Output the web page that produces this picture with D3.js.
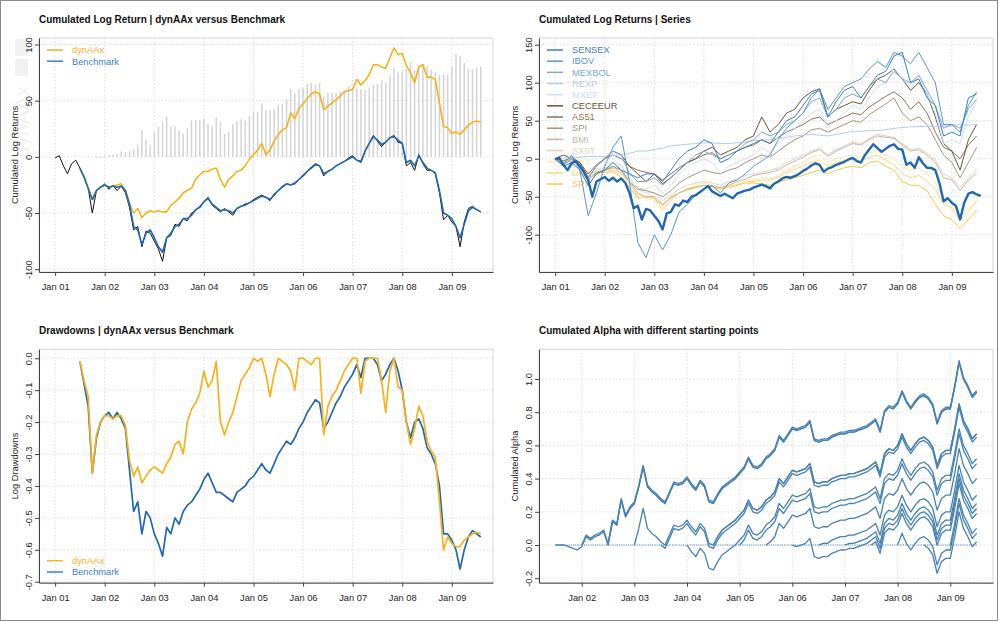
<!DOCTYPE html>
<html><head><meta charset="utf-8">
<script src="https://cdn.jsdelivr.net/npm/d3@7"></script>
<style>body{margin:0;background:#fff} text{font-family:"Liberation Sans",Arial,sans-serif}</style>
</head><body><script>
// ---------- DATA (monthly, index = months since Jan 2001 unless noted) ----------
const yearTicks = [2001,2002,2003,2004,2005,2006,2007,2008,2009];
const yearLabels = ["Jan 01","Jan 02","Jan 03","Jan 04","Jan 05","Jan 06","Jan 07","Jan 08","Jan 09"];

// Panel 1: benchmark (daily-like, from Jan 01), benchmark and dynAAx (from Jul 01), alpha bars (from Oct 01)
const benchDailyStart = 0;
const benchDaily = [-1,1,-8,-15,-6,-3,-10,-18,-28,-50,-30,-27,-24,-29,-25,-30,-26,-32,-45,-65,-62,-80,-66,-68,-75,-82,-93,-72,-70,-60,-62,-55,-57,-50,-48,-44,-40,-36,-43,-46,-49,-46,-49,-52,-46,-44,-42,-41,-38,-36,-34,-36,-39,-33,-30,-26,-24,-25,-23,-20,-16,-13,-9,-6,-8,-17,-13,-11,-8,-6,-4,-1,1,-3,-5,5,12,19,14,9,13,17,19,13,12,-8,-5,-12,2,-6,-12,-12,-15,-32,-56,-52,-58,-62,-80,-58,-46,-44,-47,-49];
const benchStart = 6;
const benchmark = [-10,-18,-28,-38,-30,-27,-25,-27,-26,-27,-26,-30,-42,-62,-65,-78,-68,-65,-72,-80,-85,-72,-68,-62,-60,-55,-55,-52,-47,-45,-40,-37,-42,-45,-48,-47,-48,-50,-46,-44,-43,-41,-39,-37,-35,-36,-38,-34,-30,-27,-24,-25,-24,-20,-17,-13,-10,-7,-8,-15,-13,-11,-8,-6,-4,-2,0,-3,-4,5,12,18,15,11,13,17,18,15,12,-5,-3,-8,1,-5,-10,-12,-14,-30,-50,-52,-55,-62,-72,-60,-48,-45,-47,-49];
const dynStart = 6;
const dynAAx = [-10,-18,-28,-38,-30,-27,-25,-27,-26,-25,-24,-30,-42,-50,-46,-54,-50,-48,-49,-48,-49,-49,-43,-40,-37,-32,-30,-28,-20,-16,-13,-13,-11,-10,-20,-27,-20,-17,-13,-12,-8,-2,2,6,12,2,6,14,20,24,26,39,34,43,47,52,56,58,56,42,45,48,51,54,58,59,60,69,64,68,73,82,82,80,79,88,97,91,92,81,75,66,80,82,71,71,69,48,27,26,21,22,20,24,28,31,32,31];
const barStart = 9;
const alphaBars = [0,-1,-1,1,2,2,3,5,4,5,6.8,10.7,24,15,10.7,21.7,27,31.5,36,27,27,23.5,20.5,25.5,32.3,33,32.3,33.5,29.4,27.6,35.3,30.6,20.5,22.5,29,32,33.5,32.3,36.5,39.8,40.3,47.8,41.8,41.8,42.4,46.3,47.2,51.4,60.3,56.7,60.3,61.2,65,66,64,66,53.7,57.3,57.3,56.7,58.2,59,63.2,62,61.1,60.3,59.6,61.1,64,65,68,66,72,79,75,76,78,84,77.4,80.4,82.8,81,77.4,75,73,73.9,73,80.4,91.7,90,83.4,78,78,79,80.4];

// Panel 2: series, every 2 months from Jan 01
const seriesStep = 2;
const seriesNames = ["SENSEX","IBOV","MEXBOL","REXP","MXEF","CECEEUR","AS51","SPI","BMI","SX5T","NKY","UKX","SPX"];
const seriesColors = ["#3d7fc1","#5b94cf","#7aa9da","#b4cdea","#cddff1","#6e5532","#8b7355","#a8937a","#c4b6a1","#ddd3c4","#fde7a6","#fdd67a","#fcc548"];
const SENSEX = [0,-10,-5,-15,-35,-20,-15,-5,-15,-20,-25,-20,-20,-30,-15,0,10,15,25,20,-5,0,10,15,20,25,20,35,50,55,70,85,90,55,75,90,95,80,95,110,115,135,140,100,105,80,70,30,35,30,80,85];
const IBOV = [0,-8,5,-15,-75,-45,-10,15,30,-30,-110,-130,-100,-120,-100,-70,-60,-48,-40,-35,-45,-32,-28,-20,-10,-3,5,25,40,50,60,80,92,65,80,95,100,105,118,128,120,140,135,125,140,120,100,45,45,35,70,88];
const MEXBOL = [0,-8,0,-10,-25,-10,0,10,5,-20,-30,-30,-25,-35,-25,-15,-5,5,10,5,0,5,10,20,25,35,30,35,45,50,60,75,80,55,65,80,85,80,95,105,100,115,105,100,110,90,70,40,45,40,65,78];
const REXP = [0,1,1,2,3,3,3,4,5,7,10,10,12,14,17,18,19,20,21,21,20,20,21,22,24,24,25,27,28,30,31,32,31,30,32,34,36,36,37,37,38,40,41,42,42,43,42,43,44,45,44,45];
const MXEF = [0,-5,-2,-12,-30,-15,-10,-5,-8,-30,-38,-40,-35,-45,-35,-20,-10,-5,0,-5,-20,-10,-5,0,5,15,8,20,30,40,50,60,65,40,50,60,70,65,80,95,100,120,105,95,110,85,60,20,25,20,55,75];
const CECEEUR = [0,5,0,-5,-25,-10,0,10,5,-10,-20,-30,-20,-33,-25,-15,-5,0,10,15,5,10,15,25,30,55,35,45,60,65,80,88,92,55,65,70,75,72,90,105,110,118,105,90,100,85,55,20,10,-15,25,45];
const AS51 = [0,-3,2,-5,-20,-8,0,5,0,-10,-15,-18,-20,-28,-20,-12,-5,0,5,8,0,5,10,15,18,25,20,28,35,40,45,52,55,45,50,55,60,58,68,75,82,88,80,65,75,60,35,15,10,0,18,30];
const SPI = [0,-5,-2,-10,-28,-18,-15,-10,-15,-30,-40,-42,-45,-50,-42,-32,-25,-20,-15,-18,-20,-15,-12,-5,0,5,2,10,18,25,30,38,40,35,40,45,50,48,58,65,72,80,60,50,55,45,25,5,-5,-25,-5,15];
const BMI = [0,-5,-3,-12,-28,-20,-15,-12,-18,-30,-45,-50,-50,-60,-52,-45,-40,-37,-35,-37,-38,-35,-30,-27,-22,-20,-18,-15,-8,-3,2,8,12,3,10,15,20,18,25,30,28,27,18,10,12,5,-5,-25,-28,-42,-28,-19];
const SX5T = [0,-3,0,-8,-22,-15,-12,-10,-15,-25,-40,-45,-45,-55,-48,-40,-35,-32,-30,-32,-35,-30,-27,-22,-20,-18,-15,-12,-5,0,5,10,14,5,12,17,22,20,27,32,30,28,20,12,14,8,-2,-20,-25,-38,-25,-15];
const NKY = [0,-5,-3,-10,-30,-22,-20,-18,-20,-35,-50,-52,-55,-65,-55,-45,-40,-35,-32,-35,-38,-35,-33,-30,-28,-25,-27,-22,-15,-10,-5,2,5,-5,0,3,5,2,8,10,5,0,-10,-15,-12,-20,-30,-55,-60,-75,-65,-58];
const UKX = [0,-4,-2,-8,-25,-18,-15,-15,-20,-32,-48,-50,-52,-68,-55,-45,-42,-38,-35,-36,-38,-36,-34,-30,-30,-28,-28,-24,-18,-14,-10,-5,-2,-10,-5,-2,0,-3,2,5,-2,-8,-20,-25,-22,-30,-40,-60,-65,-80,-70,-55];
const SPX = [0,-5,-3,-8,-25,-18,-18,-17,-25,-38,-52,-50,-52,-62,-50,-45,-40,-38,-35,-37,-40,-38,-35,-32,-32,-33,-35,-30,-28,-25,-22,-18,-15,-20,-15,-12,-10,-12,-5,-3,-10,-15,-30,-35,-35,-42,-60,-75,-80,-92,-80,-68];
const seriesValues = [SENSEX,IBOV,MEXBOL,REXP,MXEF,CECEEUR,AS51,SPI,BMI,SX5T,NKY,UKX,SPX];

// Panel 3: drawdowns, monthly from Jul 01
const ddStart = 6;
const ddDyn = [-0.01,-0.07,-0.12,-0.36,-0.24,-0.2,-0.18,-0.18,-0.19,-0.18,-0.18,-0.21,-0.32,-0.37,-0.34,-0.39,-0.37,-0.35,-0.34,-0.35,-0.36,-0.33,-0.31,-0.27,-0.26,-0.3,-0.2,-0.16,-0.14,-0.11,-0.04,-0.09,-0.07,-0.01,-0.2,-0.24,-0.2,-0.17,-0.12,-0.07,-0.05,-0.03,0,-0.01,0,-0.05,-0.12,-0.05,0,-0.01,-0.02,-0.04,-0.1,0,0,-0.01,-0.02,0,0,-0.24,-0.15,-0.12,-0.1,-0.07,-0.04,-0.02,0,0,-0.11,-0.01,0,0,0,-0.07,-0.17,-0.04,0,-0.09,-0.1,-0.2,-0.27,-0.22,-0.15,-0.18,-0.26,-0.29,-0.31,-0.45,-0.6,-0.56,-0.58,-0.59,-0.59,-0.57,-0.56,-0.55,-0.545,-0.55];
const ddBench = [-0.01,-0.08,-0.15,-0.36,-0.25,-0.2,-0.18,-0.17,-0.19,-0.17,-0.19,-0.22,-0.35,-0.48,-0.45,-0.55,-0.48,-0.5,-0.55,-0.58,-0.62,-0.53,-0.55,-0.5,-0.52,-0.48,-0.46,-0.45,-0.43,-0.41,-0.38,-0.36,-0.39,-0.42,-0.42,-0.43,-0.44,-0.45,-0.42,-0.41,-0.4,-0.38,-0.37,-0.35,-0.33,-0.35,-0.36,-0.33,-0.3,-0.28,-0.26,-0.27,-0.25,-0.22,-0.2,-0.17,-0.15,-0.13,-0.14,-0.22,-0.2,-0.17,-0.14,-0.12,-0.09,-0.07,-0.05,-0.02,-0.06,0,0,0,-0.02,-0.07,-0.05,-0.02,0,-0.04,-0.1,-0.2,-0.25,-0.2,-0.19,-0.22,-0.28,-0.3,-0.33,-0.4,-0.55,-0.55,-0.57,-0.6,-0.66,-0.6,-0.56,-0.54,-0.55,-0.56];

// Panel 4: cumulated alpha since Jul 01 (monthly, from Jul 01) and the starting months of each curve
const alphaStart = 6;
const alphaBase = [0,0,0,-0.01,-0.02,-0.03,-0.01,0.05,0.03,0.05,0.06,0.08,0.0,0.14,0.12,0.27,0.17,0.22,0.25,0.35,0.47,0.35,0.32,0.30,0.27,0.25,0.31,0.37,0.36,0.37,0.40,0.36,0.33,0.38,0.35,0.26,0.25,0.30,0.34,0.36,0.38,0.40,0.43,0.46,0.52,0.47,0.46,0.48,0.52,0.54,0.57,0.65,0.62,0.66,0.70,0.69,0.70,0.71,0.74,0.63,0.62,0.63,0.63,0.65,0.66,0.67,0.67,0.68,0.68,0.69,0.70,0.71,0.73,0.75,0.68,0.80,0.83,0.82,0.85,0.92,0.86,0.82,0.86,0.89,0.90,0.88,0.84,0.73,0.80,0.82,0.82,0.95,1.10,1.00,0.95,0.89,0.92];
const alphaStartMonths = [6,12,18,24,30,36,42,48,54,60,66,72,78,84,90,96];
const alphaTicks = [2002,2003,2004,2005,2006,2007,2008,2009];
const alphaTickLabels = ["Jan 02","Jan 03","Jan 04","Jan 05","Jan 06","Jan 07","Jan 08","Jan 09"];

// ---------- DRAWING ----------
const W = 1000, H = 622;
const FS = 9.3;
const YEL = "#f5b21c", BLU = "#1f68b0";
const toYear = m => 2001 + m / 12;
const svg = d3.select("body").append("svg").attr("width", W).attr("height", H);
svg.append("rect").attr("width", W).attr("height", H).attr("fill", "#fff");
svg.append("rect").attr("x", 0.5).attr("y", 0.5).attr("width", 997).attr("height", 620)
  .attr("fill", "none").attr("stroke", "#8a8a8a");

const fmtHy = f => v => f(v).replace("\u2212", "-");

function panel(o) {
  const g = svg.append("g");
  const x = d3.scaleLinear().domain(o.xd).range([o.L, o.R]);
  const y = d3.scaleLinear().domain(o.yd).range([o.B, o.T]);
  const grid = g.append("g").attr("stroke", "#dcdcdc").attr("stroke-dasharray", "1.5,2");
  o.xt.forEach(t => grid.append("line").attr("x1", x(t)).attr("x2", x(t)).attr("y1", o.T).attr("y2", o.B));
  o.yt.forEach(t => grid.append("line").attr("x1", o.L).attr("x2", o.R).attr("y1", y(t)).attr("y2", y(t)));
  const content = g.append("g");
  const frame = g.append("g");
  frame.append("rect").attr("x", o.L).attr("y", o.T).attr("width", o.R - o.L).attr("height", o.B - o.T)
    .attr("fill", "none").attr("stroke", "#d6d6d6");
  const xa = frame.append("g").attr("transform", `translate(0,${o.B})`)
    .call(d3.axisBottom(x).tickValues(o.xt).tickFormat((d, i) => o.xl[i]).tickSize(4).tickPadding(7.5).tickSizeOuter(0));
  const ya = frame.append("g").attr("transform", `translate(${o.L},0)`)
    .call(d3.axisLeft(y).tickValues(o.yt).tickFormat(o.yf).tickSize(4).tickSizeOuter(0));
  [xa, ya].forEach(a => {
    a.select(".domain").attr("stroke", "#444");
    a.selectAll(".tick line").attr("stroke", "#444");
    a.selectAll("text").attr("font-size", FS).attr("fill", "#222").attr("font-family", '"Liberation Sans",Arial,sans-serif');
  });
  ya.selectAll("text").attr("transform", "rotate(-90)").attr("x", 0).attr("y", -7.4).attr("dy", 0).attr("text-anchor", "middle");
  svg.append("text").attr("x", o.L).attr("y", o.T - 15).attr("font-size", 10).attr("font-weight", "bold")
    .attr("fill", "#111").text(o.title);
  const cy = (o.T + o.B) / 2;
  svg.append("text").attr("transform", `translate(${o.L - 21.5},${cy}) rotate(-90)`).attr("text-anchor", "middle")
    .attr("font-size", FS).attr("fill", "#222").text(o.ylab);
  return { g: content, x, y };
}

function legend(g, items, x0, y0, dy) {
  items.forEach((it, i) => {
    const yy = y0 + i * dy;
    g.append("line").attr("x1", x0).attr("x2", x0 + 16).attr("y1", yy).attr("y2", yy)
      .attr("stroke", it.c).attr("stroke-width", 1.5);
    g.append("text").attr("x", x0 + 25).attr("y", yy + 3.3).attr("font-size", FS).attr("fill", it.c).text(it.n);
  });
}

function drawLine(g, x, y, vals, m0, step, color, w) {
  const pts = vals.map((v, i) => ({ t: toYear(m0 + i * step), v }));
  g.append("path").datum(pts).attr("fill", "none").attr("stroke", color).attr("stroke-width", w)
    .attr("stroke-linejoin", "round")
    .attr("d", d3.line().x(d => x(d.t)).y(d => y(d.v)));
}

// Watermark (panel 1)
svg.append("rect").attr("x", 15).attr("y", 39).attr("width", 13).attr("height", 17).attr("fill", "#f1f1f1");
svg.append("rect").attr("x", 15).attr("y", 59).attr("width", 13).attr("height", 17).attr("fill", "#f1f1f1");
svg.append("text").attr("transform", "translate(29,122) rotate(-90)").attr("text-anchor", "middle")
  .attr("font-size", 21).attr("fill", "#f1f1f1").text("dynAAx");

// Panel 1
const p1 = panel({ L: 39, R: 493, T: 38, B: 272, xd: [2000.675, 2009.83], yd: [-102.5, 105.8],
  xt: yearTicks, xl: yearLabels, yt: [-100, -50, 0, 50, 100], yf: d => String(d),
  title: "Cumulated Log Return | dynAAx versus Benchmark", ylab: "Cumulated Log Returns" });
p1.g.selectAll("rect.bar").data(alphaBars).enter().append("rect")
  .attr("x", (d, i) => p1.x(toYear(barStart + i)) - 0.75).attr("width", 1.5)
  .attr("y", d => p1.y(Math.max(d, 0))).attr("height", d => Math.abs(p1.y(d) - p1.y(0)))
  .attr("fill", "#d4d4d4");
drawLine(p1.g, p1.x, p1.y, benchDaily, benchDailyStart, 1, "#111", 1);
drawLine(p1.g, p1.x, p1.y, dynAAx, dynStart, 1, YEL, 1.6);
drawLine(p1.g, p1.x, p1.y, benchmark, benchStart, 1, BLU, 1.6);
legend(svg, [{ n: "dynAAx", c: YEL }, { n: "Benchmark", c: "#3a7fc4" }], 47, 50, 11.2);

// Panel 2
const p2 = panel({ L: 539, R: 993, T: 38, B: 272, xd: [2000.675, 2009.83], yd: [-149, 158.8],
  xt: yearTicks, xl: yearLabels, yt: [-100, -50, 0, 50, 100, 150], yf: d => String(d),
  title: "Cumulated Log Returns | Series", ylab: "Cumulated Log Returns" });
legend(p2.g, seriesNames.map((n, i) => ({ n, c: seriesColors[i] })), 547, 50, 11.17);
for (let i = seriesValues.length - 1; i >= 0; i--) {
  drawLine(p2.g, p2.x, p2.y, seriesValues[i], 0, seriesStep, seriesColors[i], 1);
}
drawLine(p2.g, p2.x, p2.y, benchDaily, benchDailyStart, 1, BLU, 2.4);

// Panel 3
const p3 = panel({ L: 39, R: 493, T: 349.3, B: 582.7, xd: [2000.675, 2009.83], yd: [-0.703, 0.028],
  xt: yearTicks, xl: yearLabels, yt: [0, -0.1, -0.2, -0.3, -0.4, -0.5, -0.6, -0.7], yf: fmtHy(d3.format(".1f")),
  title: "Drawdowns | dynAAx versus Benchmark", ylab: "Log Drawdowns" });
drawLine(p3.g, p3.x, p3.y, ddBench, ddStart, 1, BLU, 1.7);
drawLine(p3.g, p3.x, p3.y, ddDyn, ddStart, 1, YEL, 1.7);
legend(svg, [{ n: "dynAAx", c: YEL }, { n: "Benchmark", c: "#3a7fc4" }], 47, 560.7, 11.3);

// Panel 4
const p4 = panel({ L: 539, R: 993, T: 349.3, B: 582.7, xd: [2001.189, 2009.811], yd: [-0.227, 1.179],
  xt: alphaTicks, xl: alphaTickLabels, yt: [-0.2, 0, 0.2, 0.4, 0.6, 0.8, 1.0], yf: fmtHy(d3.format(".1f")),
  title: "Cumulated Alpha with different starting points", ylab: "Cumulated Alpha" });
p4.g.append("line").attr("x1", p4.x(toYear(alphaStart))).attr("x2", p4.x(toYear(alphaStart + alphaBase.length - 1)))
  .attr("y1", p4.y(0)).attr("y2", p4.y(0)).attr("stroke", "#4682b4").attr("stroke-dasharray", "1,1.2");
alphaStartMonths.forEach(s => {
  const k = s - alphaStart;
  const ref = alphaBase[k];
  const vals = alphaBase.slice(k).map(v => v - ref);
  drawLine(p4.g, p4.x, p4.y, vals, s, 1, "#4682b4", 1.3);
});
</script></body></html>
